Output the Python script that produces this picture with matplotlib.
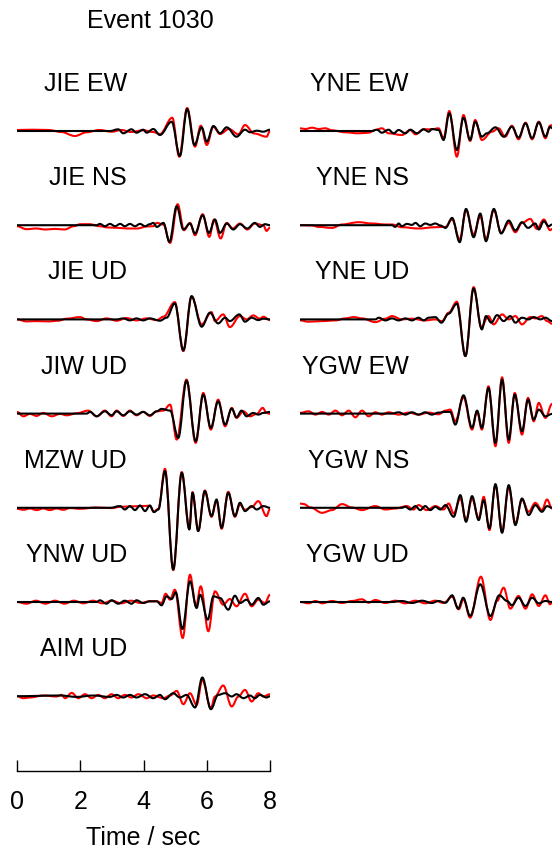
import matplotlib

matplotlib.use("Agg")
import matplotlib.pyplot as plt
from matplotlib.path import Path
from matplotlib.patches import PathPatch

plt.rcParams["font.family"] = ["Liberation Sans", "DejaVu Sans"]

TITLE = "Event 1030"

# Waveform turning points: time (s) and relative amplitude, red = observed, black = synthetic
jie_ew_obs_t = [0, 0.5, 1.0, 1.4, 1.83, 2.2, 2.6, 3.0, 3.3, 3.6, 4.0, 4.3, 4.52, 4.91, 5.13, 5.38, 5.63, 5.81, 6.00, 6.21, 6.42, 6.7, 7.0, 7.21, 7.5, 7.89, 8.00]
jie_ew_obs_a = [1.0, 1.3, 1.0, -1.0, -5.0, -1.3, 1.0, -0.7, 1.0, -1.0, 0.7, -1.0, -3.0, 13.3, -25.7, 23.0, -15.7, 5.3, -14.0, 4.3, -3.0, 2.0, -3.3, 6.0, -2.5, -5.7, 0.0]
jie_ew_syn_t = [0, 2.94, 3.20, 3.36, 3.62, 3.78, 3.99, 4.10, 4.31, 4.52, 4.89, 5.15, 5.38, 5.61, 5.84, 6.00, 6.21, 6.42, 6.63, 6.94, 7.21, 7.37, 7.58, 7.79, 8.00]
jie_ew_syn_a = [0, 0, 1.7, -2.3, 1.7, -1.7, 1.3, -1.7, 2.0, -4.0, 9.3, -25.0, 22.0, -14.0, 3.7, -10.7, 5.0, -2.3, 3.7, -5.7, 1.3, -1.3, 0.3, -0.7, 1.3]

jie_ns_obs_t = [0, 0.3, 0.6, 0.9, 1.2, 1.5, 1.8, 2.0, 2.3, 2.6, 2.9, 3.2, 3.5, 3.8, 4.1, 4.31, 4.42, 4.63, 4.84, 5.08, 5.28, 5.47, 5.63, 5.87, 6.08, 6.23, 6.44, 6.63, 6.82, 7.05, 7.28, 7.52, 7.79, 7.89, 8.00]
jie_ns_obs_a = [-1.0, -4.0, -3.3, -4.3, -3.7, -4.3, -1.0, 1.0, 1.0, -1.0, -2.3, -2.7, -3.3, -3.3, -1.3, -1.0, 2.3, 0.7, -17.7, 21.0, -5.0, 2.3, -10.0, 11.0, -11.7, 5.7, -13.3, 2.3, -3.3, 1.7, -4.3, 1.7, 0.0, -5.7, -2.3]
jie_ns_syn_t = [0, 2.52, 2.62, 2.78, 2.94, 3.10, 3.26, 3.41, 3.57, 3.73, 3.89, 4.05, 4.20, 4.31, 4.42, 4.63, 4.82, 5.05, 5.26, 5.47, 5.63, 5.87, 6.07, 6.26, 6.42, 6.63, 6.84, 7.05, 7.28, 7.52, 7.68, 7.84, 8.00]
jie_ns_syn_a = [0, 0, 1.3, -1.0, 1.3, -1.0, 1.3, -1.0, 1.3, -1.0, 1.3, -1.0, 1.0, 2.3, -1.7, 2.3, -16.7, 19.0, -4.3, 1.7, -8.3, 10.0, -7.7, 5.7, -7.7, 1.7, -4.3, 1.0, -3.3, 2.3, -1.7, 1.0, 0.0]

jie_ud_obs_t = [0, 0.3, 0.6, 1.0, 1.3, 1.57, 1.99, 2.2, 2.52, 2.83, 3.15, 3.47, 3.78, 4.10, 4.42, 4.63, 4.99, 5.26, 5.52, 5.84, 6.15, 6.26, 6.52, 6.73, 7.05, 7.26, 7.47, 7.68, 7.79, 8.00]
jie_ud_obs_a = [0.0, -2.0, -1.7, -2.0, -1.3, 0.7, 2.3, 0.0, -1.7, 1.0, -1.3, 1.3, -1.0, 1.0, -0.7, 2.7, 17.3, -31.7, 22.7, -5.0, 7.3, -1.7, 5.0, -7.7, 3.3, 0.0, 4.0, 0.7, 2.7, -0.7]
jie_ud_syn_t = [0, 3.15, 3.36, 3.57, 3.78, 3.99, 4.20, 4.52, 4.73, 4.99, 5.26, 5.52, 5.84, 6.10, 6.36, 6.58, 6.73, 7.03, 7.21, 7.42, 7.63, 7.79, 8.00]
jie_ud_syn_a = [0, 0, 1.0, -1.0, 1.0, -1.0, 1.0, -1.3, 1.7, 16.0, -31.0, 23.3, -7.3, 6.7, -4.0, 1.7, -1.7, 5.0, -2.3, 1.7, -0.7, 0.7, 0.0]

jiw_ud_obs_t = [0, 0.20, 0.41, 0.62, 0.83, 1.10, 1.36, 1.57, 1.89, 2.25, 2.52, 2.78, 2.99, 3.15, 3.36, 3.57, 3.78, 3.99, 4.20, 4.42, 4.63, 4.84, 5.05, 5.36, 5.65, 5.89, 6.13, 6.36, 6.58, 6.79, 6.94, 7.16, 7.37, 7.58, 7.77, 7.89, 8.00]
jiw_ud_obs_a = [1.7, -2.7, -0.3, -2.3, 0.7, -2.7, -0.3, -1.7, 0.3, 3.0, -2.7, 3.0, -2.7, 3.0, -2.3, 3.0, -1.7, 1.7, -2.3, 2.3, 3.0, 9.0, -26.0, 34.0, -29.3, 20.7, -16.0, 14.0, -12.7, 5.7, -4.3, 2.3, -2.7, -0.3, 5.7, 0.7, -0.3]
jiw_ud_syn_t = [0, 2.20, 2.31, 2.52, 2.78, 2.99, 3.15, 3.36, 3.57, 3.78, 3.99, 4.20, 4.42, 4.57, 4.84, 5.10, 5.36, 5.65, 5.89, 6.13, 6.36, 6.58, 6.79, 6.94, 7.10, 7.26, 7.47, 7.63, 7.79, 8.00]
jiw_ud_syn_a = [0, 0, 1.7, -2.7, 2.3, -1.7, 2.3, -1.7, 2.3, -1.0, 1.7, -1.7, 2.3, 4.7, 3.0, -24.3, 33.0, -27.7, 19.0, -14.3, 12.3, -11.0, 5.0, -3.7, 3.0, -2.7, 0.7, -1.0, 0.7, 1.7]

mzw_ud_obs_t = [0, 0.20, 0.41, 0.62, 0.83, 1.04, 1.25, 1.46, 1.68, 2.0, 2.5, 3.0, 3.26, 3.57, 3.89, 4.20, 4.33, 4.47, 4.68, 4.94, 5.21, 5.45, 5.55, 5.73, 5.94, 6.15, 6.31, 6.47, 6.68, 6.89, 7.05, 7.21, 7.42, 7.63, 7.89, 8.00]
mzw_ud_obs_a = [-1.0, -2.0, -0.7, -2.3, -0.7, -2.3, -0.7, -2.0, -0.3, -1.0, 0.3, -0.3, 1.0, 1.3, 1.7, 2.0, -4.0, -1.0, 39.0, -62.3, 35.7, -21.0, 15.7, -23.0, 17.3, -9.0, 7.0, -21.0, 16.0, -9.0, 3.3, -2.0, 0.7, 6.7, -8.3, -1.0]
mzw_ud_syn_t = [0, 2.94, 3.26, 3.41, 3.57, 3.73, 3.89, 4.05, 4.20, 4.33, 4.47, 4.68, 4.94, 5.21, 5.45, 5.55, 5.73, 5.94, 6.15, 6.31, 6.47, 6.68, 6.89, 7.05, 7.21, 7.42, 7.58, 7.79, 8.00]
mzw_ud_syn_a = [0, 0, 1.7, -1.7, 1.7, -2.3, 2.3, -3.3, 2.3, -4.3, -1.7, 36.7, -61.7, 35.0, -21.7, 15.0, -23.3, 16.7, -8.3, 8.3, -20.0, 15.0, -8.3, 5.0, -3.3, 1.7, -1.7, 1.7, 0.0]

ynw_ud_obs_t = [0, 0.3, 0.6, 0.9, 1.2, 1.5, 1.8, 2.1, 2.4, 2.7, 3.0, 3.3, 3.6, 3.9, 4.2, 4.42, 4.57, 4.70, 4.84, 4.99, 5.24, 5.47, 5.66, 5.81, 6.05, 6.26, 6.52, 6.73, 6.94, 7.21, 7.42, 7.63, 7.84, 8.00]
ynw_ud_obs_a = [0, -1.7, 1.3, -1.7, 1.3, -1.7, 1.3, -1.3, 1.3, -1.3, 1.3, -1.3, 1.3, -1.0, 0.7, 0.7, -1.0, 8.3, 2.3, 12.3, -36.0, 27.3, -4.3, 15.7, -29.3, 10.7, -2.7, 3.0, -4.3, 8.3, -4.3, 2.3, -1.0, 7.3]
ynw_ud_syn_t = [0, 2.52, 2.62, 2.83, 2.99, 3.20, 3.41, 3.62, 3.78, 3.99, 4.20, 4.42, 4.57, 4.73, 4.89, 5.02, 5.23, 5.47, 5.68, 5.79, 6.03, 6.21, 6.42, 6.68, 6.89, 7.05, 7.26, 7.42, 7.63, 7.79, 8.00]
ynw_ud_syn_a = [0, 0, 1.7, -1.7, 1.7, -1.7, 1.3, -1.7, 1.7, -1.0, 0.7, 0.7, -3.3, 5.7, 3.0, 9.7, -27.0, 20.7, -6.0, 7.3, -17.7, 5.7, 4.0, -7.7, 6.3, -1.0, 2.3, -2.7, 4.0, -2.7, 0.7]

aim_ud_obs_t = [0, 0.20, 0.41, 0.83, 1.25, 1.41, 1.52, 1.73, 1.94, 2.15, 2.36, 2.57, 2.78, 2.99, 3.20, 3.41, 3.62, 3.84, 4.10, 4.31, 4.63, 4.84, 5.05, 5.26, 5.47, 5.68, 5.86, 6.13, 6.26, 6.52, 6.79, 7.00, 7.21, 7.42, 7.63, 7.79, 8.00]
aim_ud_obs_a = [0, -2.0, -1.3, 0.7, -0.3, 1.3, -2.0, 3.3, -2.0, 2.0, -2.0, 1.3, -2.0, 2.0, -2.0, 1.3, -1.3, 2.0, -2.0, 0.7, -2.0, 0.7, 5.3, -8.0, 3.0, -8.7, 16.3, -12.0, -0.3, 10.7, -10.3, -0.3, 6.3, -5.3, 3.0, -0.3, 2.0]
aim_ud_syn_t = [0, 1.36, 1.89, 2.41, 2.94, 3.15, 3.36, 3.57, 3.78, 4.05, 4.31, 4.52, 4.68, 4.94, 5.15, 5.36, 5.63, 5.86, 6.13, 6.36, 6.58, 6.79, 6.94, 7.16, 7.37, 7.52, 7.68, 7.89, 8.00]
aim_ud_syn_a = [0, 0.7, -0.7, 0.7, -0.7, 1.3, -1.3, 1.3, -1.3, 2.0, -2.0, 1.3, -3.0, 3.0, -1.3, 1.3, -11.3, 18.7, -13.0, 1.3, 3.0, -0.3, 2.0, -2.0, 0.7, -2.0, 1.3, -1.3, 0.0]

yne_ew_obs_t = [0, 0.17, 0.38, 0.59, 0.80, 1.01, 1.43, 1.85, 2.17, 2.38, 2.59, 2.80, 3.22, 3.49, 3.65, 3.91, 4.17, 4.38, 4.54, 4.72, 4.96, 5.17, 5.38, 5.54, 5.75, 6.07, 6.28, 6.49, 6.70, 6.91, 7.13, 7.34, 7.55, 7.76, 7.91, 7.97]
yne_ew_obs_a = [2.7, 2.0, 3.3, 2.0, 2.7, 0.7, -1.3, -2.3, -1.7, 1.0, 2.7, -2.3, -4.0, 1.0, -3.3, 1.7, 1.7, 2.7, -7.3, 20.0, -25.7, 16.0, -10.0, 11.0, -9.0, -0.7, 2.7, -5.7, 5.3, -8.3, 8.3, -8.3, 9.3, -7.3, 5.3, 6.0]
yne_ew_syn_t = [0, 2.28, 2.43, 2.59, 2.80, 2.96, 3.12, 3.33, 3.49, 3.70, 3.91, 4.07, 4.17, 4.38, 4.54, 4.72, 4.96, 5.17, 5.38, 5.54, 5.75, 5.91, 6.18, 6.44, 6.70, 6.91, 7.13, 7.34, 7.55, 7.76, 7.91, 7.97]
yne_ew_syn_a = [0, 0, 1.3, -1.7, 1.3, -2.3, 1.0, -2.3, 1.3, -2.3, 1.7, -0.7, 2.0, 1.0, -9.0, 17.7, -19.0, 13.3, -9.0, 9.3, -5.7, -2.3, 3.7, -5.7, 4.3, -6.7, 7.7, -7.3, 8.7, -5.7, 4.3, 2.7]

yne_ns_obs_t = [0, 0.38, 0.59, 1.01, 1.33, 1.85, 2.28, 2.70, 2.91, 3.22, 3.75, 4.28, 4.60, 4.81, 5.05, 5.25, 5.49, 5.70, 5.88, 6.13, 6.36, 6.60, 6.81, 7.02, 7.28, 7.49, 7.71, 7.91, 7.97]
yne_ns_obs_a = [0, -0.3, -1.7, -2.7, 0.7, 3.0, 1.7, 0.7, 0.7, -2.0, -3.3, -2.0, -1.7, 5.7, -14.3, 15.0, -9.3, 9.0, -13.7, 15.0, -7.7, 2.3, -7.0, 2.3, 6.3, -3.7, 5.7, -5.0, -3.7]
yne_ns_syn_t = [0, 2.91, 3.01, 3.12, 3.22, 3.38, 3.54, 3.65, 3.80, 3.96, 4.12, 4.28, 4.44, 4.60, 4.81, 5.05, 5.25, 5.49, 5.70, 5.88, 6.13, 6.36, 6.60, 6.81, 7.02, 7.21, 7.44, 7.55, 7.71, 7.86, 7.97]
yne_ns_syn_a = [0, 0, -1.7, 1.7, -1.0, 1.3, 0.3, 2.3, -1.0, 1.7, 0.3, 1.7, -0.3, -2.7, 7.3, -17.0, 16.3, -12.0, 11.7, -16.0, 16.3, -8.3, 4.7, -5.3, 3.0, -2.7, 1.7, -4.3, 4.0, -1.0, 0.7]

yne_ud_obs_t = [0, 0.27, 0.70, 1.12, 1.43, 1.70, 1.96, 2.38, 2.70, 2.91, 3.22, 3.54, 3.96, 4.28, 4.49, 4.70, 4.96, 5.23, 5.49, 5.73, 5.96, 6.12, 6.39, 6.60, 6.81, 7.02, 7.28, 7.44, 7.65, 7.81, 7.97]
yne_ud_obs_a = [-1.0, -2.3, -1.7, -1.0, 1.0, 2.3, 1.0, -2.7, 0.7, 3.3, 0.0, 0.7, -1.0, 0.0, -1.7, 6.7, 17.7, -36.7, 32.3, -7.7, 3.3, -5.0, 5.0, 0.0, 3.3, -5.0, 2.3, 1.0, 3.3, -1.7, -4.3]
yne_ud_syn_t = [0, 2.38, 2.49, 2.70, 2.91, 3.12, 3.33, 3.54, 3.75, 3.91, 4.07, 4.28, 4.47, 4.70, 4.96, 5.23, 5.49, 5.75, 5.88, 6.05, 6.23, 6.44, 6.65, 6.81, 7.02, 7.23, 7.39, 7.60, 7.76, 7.97]
yne_ud_syn_a = [0, 0, 1.7, -1.0, 1.0, -1.0, 1.0, -1.0, 1.7, -1.0, 1.7, 2.3, -3.3, 5.7, 15.7, -36.7, 31.0, -10.0, 3.3, -3.3, 4.3, -1.7, 3.3, -3.3, 1.7, 0.0, 2.3, 0.0, 1.7, -1.7]

ygw_ew_obs_t = [0, 0.27, 0.49, 0.70, 0.91, 1.12, 1.33, 1.54, 1.75, 1.96, 2.17, 2.38, 2.59, 2.80, 3.12, 3.44, 3.75, 4.07, 4.38, 4.60, 4.75, 4.91, 5.17, 5.44, 5.60, 5.75, 5.96, 6.18, 6.39, 6.60, 6.79, 7.02, 7.21, 7.39, 7.55, 7.76, 7.97]
ygw_ew_obs_a = [0.7, 2.3, -1.0, 1.7, -1.0, 3.0, -1.7, 3.0, -3.7, 3.0, -2.7, 1.3, -1.0, 1.3, -1.0, 1.0, -1.0, 1.0, -0.7, 3.0, 4.0, -7.7, 16.3, -16.0, 2.3, -16.0, 27.3, -32.7, 36.3, -29.3, 20.7, -21.0, 15.7, -7.7, 10.7, -4.3, 9.7]
ygw_ew_syn_t = [0, 2.91, 3.12, 3.33, 3.54, 3.75, 3.96, 4.17, 4.38, 4.60, 4.75, 4.91, 5.17, 5.44, 5.60, 5.75, 5.96, 6.18, 6.39, 6.60, 6.79, 7.02, 7.21, 7.39, 7.55, 7.76, 7.97]
ygw_ew_syn_a = [0, 0, 1.3, -1.0, 1.3, -1.0, 1.3, -1.0, 1.0, 1.7, 1.7, -11.0, 18.3, -14.3, 3.0, -14.3, 25.7, -29.3, 34.0, -26.0, 19.0, -17.7, 14.0, -6.0, 4.0, -2.7, -0.3]

ygw_ns_obs_t = [0, 0.12, 0.33, 0.70, 1.01, 1.33, 1.64, 1.96, 2.38, 2.70, 3.01, 3.38, 3.59, 3.75, 4.01, 4.28, 4.54, 4.70, 4.86, 5.07, 5.25, 5.44, 5.65, 5.81, 5.99, 6.18, 6.39, 6.60, 6.81, 7.02, 7.23, 7.44, 7.65, 7.81, 7.97]
ygw_ns_obs_a = [4.3, 3.7, 0.3, -5.0, -2.3, 3.7, 0.3, -2.3, 1.7, -1.7, -0.7, 1.7, -1.7, 2.7, -2.3, 1.7, -1.7, 4.3, -5.7, 9.3, -12.3, 9.3, -10.7, 11.0, -22.3, 22.7, -24.0, 21.0, -15.7, 8.3, -4.0, 5.0, -2.3, 8.3, -0.7]
ygw_ns_syn_t = [0, 3.22, 3.33, 3.49, 3.65, 3.80, 3.96, 4.12, 4.28, 4.44, 4.60, 4.86, 5.07, 5.25, 5.44, 5.65, 5.81, 5.99, 6.18, 6.39, 6.60, 6.81, 7.02, 7.23, 7.44, 7.65, 7.81, 7.97]
ygw_ns_syn_a = [0, 0, 1.0, -1.7, 1.7, -2.3, 1.7, -2.3, 1.0, -1.7, 2.7, -9.0, 12.7, -14.0, 11.7, -12.3, 7.7, -20.7, 23.7, -25.0, 22.7, -17.3, 9.3, -7.3, 2.7, -4.0, 1.7, 0.0]

ygw_ud_obs_t = [0, 0.27, 0.49, 0.70, 1.01, 1.33, 1.64, 1.96, 2.17, 2.38, 2.70, 3.01, 3.33, 3.65, 3.96, 4.28, 4.54, 4.81, 5.02, 5.17, 5.38, 5.72, 6.02, 6.23, 6.44, 6.65, 6.91, 7.13, 7.34, 7.55, 7.76, 7.91, 7.97]
ygw_ud_obs_a = [0, -1.3, 1.0, -1.3, 1.0, -1.0, 1.0, 2.7, -0.7, 2.0, -1.0, 1.3, -1.3, 1.3, -1.3, 1.3, -1.0, 5.3, -7.3, 2.7, -15.7, 25.3, -18.0, 1.0, 14.3, -6.7, 6.0, -6.7, 7.7, -4.0, 6.7, -2.3, 0.0]
ygw_ud_syn_t = [0, 2.91, 3.22, 3.54, 3.86, 4.17, 4.38, 4.60, 4.81, 5.00, 5.16, 5.38, 5.70, 6.02, 6.30, 6.55, 6.70, 6.91, 7.13, 7.34, 7.55, 7.76, 7.97]
ygw_ud_syn_a = [0, 0, 1.0, -1.0, 1.3, -1.0, 1.0, -0.7, 6.7, -6.7, 4.3, -14.0, 17.7, -14.0, 6.7, 1.0, -3.3, 4.3, -4.0, 4.3, -1.3, 1.0, 0.0]

left_names = ["JIE EW", "JIE NS", "JIE UD", "JIW UD", "MZW UD", "YNW UD", "AIM UD"]
right_names = ["YNE EW", "YNE NS", "YNE UD", "YGW EW", "YGW NS", "YGW UD"]
time_ticks = [0, 2, 4, 6, 8]

left_traces = [
    (jie_ew_obs_t, jie_ew_obs_a, jie_ew_syn_t, jie_ew_syn_a),
    (jie_ns_obs_t, jie_ns_obs_a, jie_ns_syn_t, jie_ns_syn_a),
    (jie_ud_obs_t, jie_ud_obs_a, jie_ud_syn_t, jie_ud_syn_a),
    (jiw_ud_obs_t, jiw_ud_obs_a, jiw_ud_syn_t, jiw_ud_syn_a),
    (mzw_ud_obs_t, mzw_ud_obs_a, mzw_ud_syn_t, mzw_ud_syn_a),
    (ynw_ud_obs_t, ynw_ud_obs_a, ynw_ud_syn_t, ynw_ud_syn_a),
    (aim_ud_obs_t, aim_ud_obs_a, aim_ud_syn_t, aim_ud_syn_a),
]
right_traces = [
    (yne_ew_obs_t, yne_ew_obs_a, yne_ew_syn_t, yne_ew_syn_a),
    (yne_ns_obs_t, yne_ns_obs_a, yne_ns_syn_t, yne_ns_syn_a),
    (yne_ud_obs_t, yne_ud_obs_a, yne_ud_syn_t, yne_ud_syn_a),
    (ygw_ew_obs_t, ygw_ew_obs_a, ygw_ew_syn_t, ygw_ew_syn_a),
    (ygw_ns_obs_t, ygw_ns_obs_a, ygw_ns_syn_t, ygw_ns_syn_a),
    (ygw_ud_obs_t, ygw_ud_obs_a, ygw_ud_syn_t, ygw_ud_syn_a),
]

W, H = 552, 851
fig = plt.figure(figsize=(W / 100, H / 100), dpi=100, facecolor="white")


def px_box(x0, y_top, w, h):
    return [x0 / W, 1 - (y_top + h) / H, w / W, h / H]


def wave_path(t, a):
    # cubic segments with flat tangents at each turning point
    verts = [(t[0], a[0])]
    codes = [Path.MOVETO]
    for i in range(1, len(t)):
        dt = t[i] - t[i - 1]
        verts += [(t[i - 1] + 0.36 * dt, a[i - 1]), (t[i] - 0.36 * dt, a[i]), (t[i], a[i])]
        codes += [Path.CURVE4] * 3
    return Path(verts, codes)


FS = 18
TRACE_W = 253
BASE0, STEP = 131, 94.2
HALF = 45


def draw_column(x0, label_right, names, traces):
    for i, (name, (ot, oa, st, sa)) in enumerate(zip(names, traces)):
        base = BASE0 + i * STEP
        ax = fig.add_axes(px_box(x0, base - HALF, TRACE_W, 2 * HALF))
        ax.set_xlim(0, 8)
        ax.set_ylim(-HALF, HALF)
        ax.axis("off")
        for t, a, col in ((ot, oa, "#ff0000"), (st, sa, "black")):
            ax.add_patch(PathPatch(wave_path(t, a), fill=False, edgecolor=col,
                                   lw=1.5, clip_on=False, joinstyle="round"))
        fig.text(label_right / W, 1 - (base - 40) / H, name, ha="right",
                 va="baseline", fontsize=FS)


draw_column(17, 127, left_names, left_traces)
draw_column(300, 409, right_names, right_traces)

fig.text(150 / W, 1 - 28 / H, TITLE, ha="center", va="baseline", fontsize=FS)

# time axis under the left column
axt = fig.add_axes(px_box(17, 700, TRACE_W, 71))
axt.set_xlim(0, 8)
axt.set_ylim(0, 1)
for side in ("left", "right", "top"):
    axt.spines[side].set_visible(False)
axt.spines["bottom"].set_linewidth(1.0)
axt.set_yticks([])
axt.set_xticks(time_ticks)
axt.set_xticklabels([str(t) for t in time_ticks])
axt.tick_params(axis="x", direction="in", length=8, width=1.0, pad=14, labelsize=FS)
axt.set_xlabel("Time / sec", fontsize=FS, labelpad=8)
axt.patch.set_visible(False)

fig.savefig("out.png", dpi=100, facecolor="white")
